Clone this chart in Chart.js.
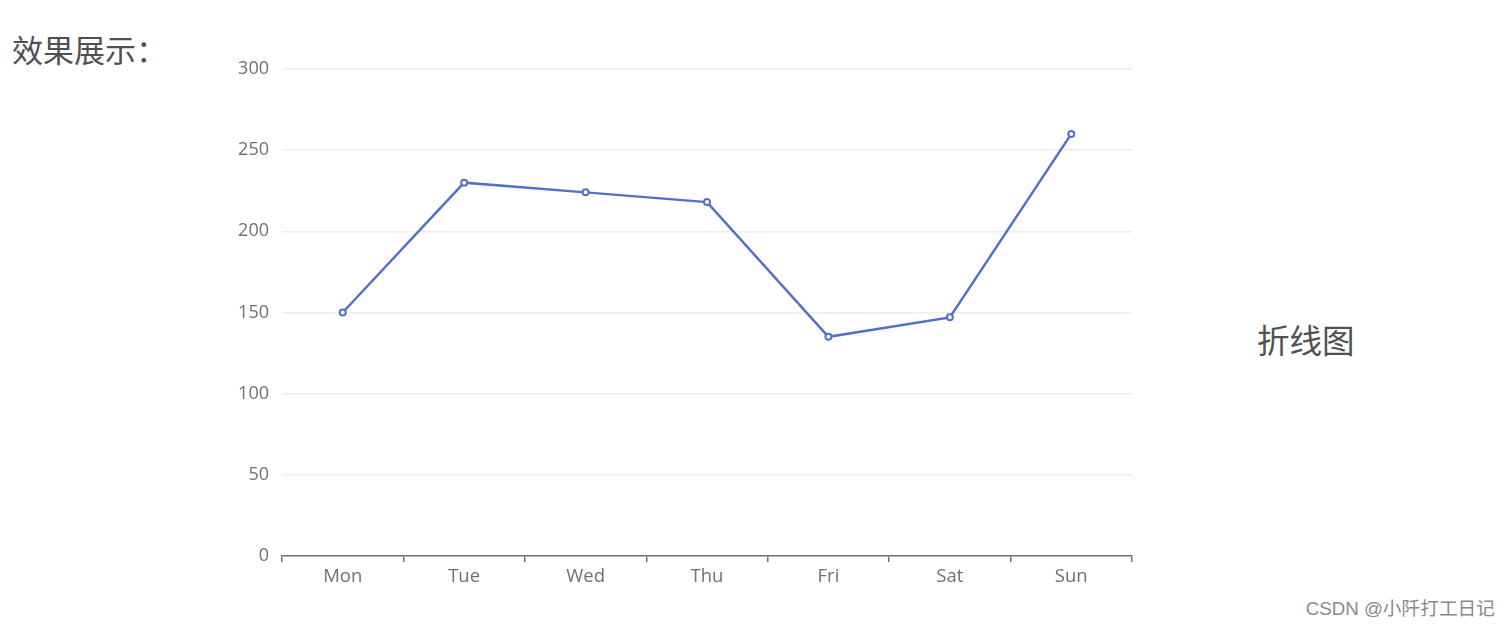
<!DOCTYPE html>
<html>
<head>
<meta charset="utf-8">
<script src="https://cdn.jsdelivr.net/npm/chart.js@4/dist/chart.umd.min.js"></script>
<style>
  body { margin: 0; background: #fff; width: 1511px; height: 626px; overflow: hidden; position: relative; font-family: "Noto Sans CJK SC", "Noto Sans", sans-serif; }
  #wrap { position: absolute; left: 0; top: 0; width: 1511px; height: 626px; }
  .txt { position: absolute; color: #505050; white-space: nowrap; }
</style>
</head>
<body>
<div class="txt" style="left:12px;top:26px;font-size:31px;">效果展示：</div>
<div class="txt" style="left:1257px;top:315px;font-size:32.5px;">折线图</div>
<div class="txt" style="right:16px;top:593px;font-size:18.7px;color:#8a8a8a;font-family:'Liberation Sans','Noto Sans CJK SC',sans-serif;">CSDN @小阡打工日记</div>
<div id="wrap"><canvas id="lineChart"></canvas></div>
<script>
const days = ["Mon", "Tue", "Wed", "Thu", "Fri", "Sat", "Sun"];
const values = [150, 230, 224, 218, 135, 147, 260];
const yTicks = [0, 50, 100, 150, 200, 250, 300];

document.addEventListener("DOMContentLoaded", function () {
    let ctx = document.getElementById("lineChart").getContext("2d");
    new Chart(ctx, {
        type: "line",
        data: {
            labels: days,
            datasets: [{
                data: values,
                borderColor: "#5470c6",
                borderWidth: 2.5,
                pointRadius: 3,
                pointBorderWidth: 2,
                pointBackgroundColor: "#fff",
                pointBorderColor: "#5470c6",
                tension: 0
            }]
        },
        options: {
            responsive: true,
            maintainAspectRatio: false,
            animation: false,
            layout: { padding: { left: 0, right: 379, top: 69, bottom: 0 } },
            plugins: { legend: { display: false }, tooltip: { enabled: false } },
            scales: {
                x: {
                    offset: true,
                    afterFit: scale => { scale.height = 70; },
                    border: { display: true, color: "#6e7079", width: 1.5 },
                    grid: { offset: true, drawOnChartArea: false, drawTicks: true, tickLength: 6, color: "#6e7079", lineWidth: 1.5 },
                    ticks: { color: "#6e7079", font: { family: "Open Sans", size: 18.5 }, padding: 4 }
                },
                y: {
                    min: 0,
                    max: 300,
                    afterFit: scale => { scale.width = 282; },
                    afterBuildTicks: scale => { scale.ticks = yTicks.map(v => ({ value: v })); },
                    border: { display: false },
                    grid: { color: "#ebedf2", lineWidth: 1.5, drawTicks: false },
                    ticks: { color: "#6e7079", font: { family: "Open Sans", size: 18 }, padding: 13 }
                }
            }
        }
    });
});
</script>
</body>
</html>
